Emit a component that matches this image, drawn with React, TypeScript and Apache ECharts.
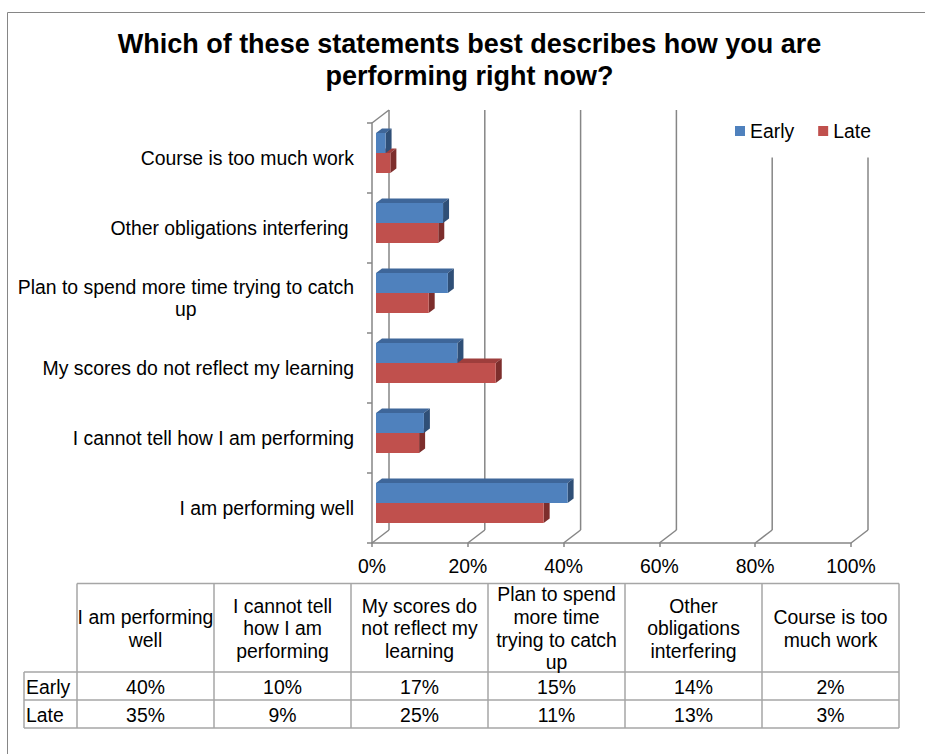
import React, { useEffect, useRef } from "react";
import * as echarts from "echarts";

// ---- data ----
const categories = [
  "I am performing well",
  "I cannot tell how I am performing",
  "My scores do not reflect my learning",
  "Plan to spend more time trying to catch up",
  "Other obligations interfering",
  "Course is too much work",
];
const axisLabels = [
  "I am performing well",
  "I cannot tell how I am performing",
  "My scores do not reflect my learning",
  "Plan to spend more time trying to catch\nup",
  "Other obligations interfering ",
  "Course is too much work",
];
const tableHeaders = [
  "I am performing\nwell",
  "I cannot tell\nhow I am\nperforming",
  "My scores do\nnot reflect my\nlearning",
  "Plan to spend\nmore time\ntrying to catch\nup",
  "Other\nobligations\ninterfering",
  "Course is too\nmuch work",
];
const seriesNames = ["Early", "Late"];
const early = [40, 10, 17, 15, 14, 2];
const late = [35, 9, 25, 11, 13, 3];
const xTicks = [0, 20, 40, 60, 80, 100];
const titleText = "Which of these statements best describes how you are\nperforming right now?";

// ---- styles ----
const FONT = '"Liberation Sans", Arial, sans-serif';
const FS = 19.4;
const GRID_COLOR = "#868686";
const TABLE_COLOR = "#a6a6a6";
const PALETTE = [
  { front: "#4F81BD", top: "#3E6699", side: "#2F4F77" },
  { front: "#C0504D", top: "#9E3E3C", side: "#7D2E2C" },
];
const DEPTH_X = 17;
const DEPTH_Y = -13;
const BAR_DX = 6;
const BAR_DY = -4.5;

function barRenderer(slot: number) {
  const col = PALETTE[slot];
  return (params: any, api: any) => {
    const v = api.value(0);
    const c = api.value(1);
    const p0 = api.coord([0, c]);
    const p1 = api.coord([v, c]);
    const band = api.size([0, 1])[1];
    const bandTop = p0[1] - band / 2;
    const y0 = bandTop + (band * (10 + slot * 20)) / 70;
    const y1 = y0 + (band * 20) / 70;
    const x0 = p0[0] + 4;
    const x1 = p1[0] + 4;
    return {
      type: "group",
      children: [
        {
          type: "polygon",
          shape: { points: [[x0, y0], [x1, y0], [x1 + BAR_DX, y0 + BAR_DY], [x0 + BAR_DX, y0 + BAR_DY]] },
          style: { fill: col.top },
        },
        {
          type: "polygon",
          shape: { points: [[x1, y0], [x1 + BAR_DX, y0 + BAR_DY], [x1 + BAR_DX, y1 + BAR_DY], [x1, y1]] },
          style: { fill: col.side },
        },
        {
          type: "rect",
          shape: { x: x0, y: y0, width: x1 - x0, height: y1 - y0 },
          style: { fill: col.front },
        },
      ],
    };
  };
}

function wallRenderer(params: any, api: any) {
  const v = api.value(0);
  const cs = params.coordSys;
  const top = cs.y;
  const bottom = cs.y + cs.height;
  const x = api.coord([v, 0])[0];
  const lineStyle = { stroke: GRID_COLOR, lineWidth: 1.5 };
  const children: any[] = [
    { type: "line", shape: { x1: x + DEPTH_X, y1: top + DEPTH_Y, x2: x + DEPTH_X, y2: bottom + DEPTH_Y }, style: lineStyle },
    { type: "line", shape: { x1: x, y1: bottom, x2: x + DEPTH_X, y2: bottom + DEPTH_Y }, style: lineStyle },
  ];
  if (v === xTicks[0]) {
    children.push({ type: "line", shape: { x1: x, y1: top, x2: x + DEPTH_X, y2: top + DEPTH_Y }, style: lineStyle });
  }
  return { type: "group", children };
}

function buildTable() {
  const els: any[] = [];
  const colLeft = 77;
  const colW = 137;
  const labelLeft = 24;
  const headTop = 583.5;
  const headBottom = 672;
  const rowH = 28;
  const n = categories.length;
  const right = colLeft + colW * n;
  const bottom = headBottom + rowH * 2;
  const ls = { stroke: TABLE_COLOR, lineWidth: 1.5 };
  const txt = (x: number, y: number, text: string, align: string, lh = 22.7) => ({
    type: "text",
    x,
    y,
    z: 10,
    style: {
      text,
      fontSize: FS,
      fontFamily: FONT,
      fill: "#000",
      align,
      textAlign: align,
      verticalAlign: "middle",
      textVerticalAlign: "middle",
      lineHeight: lh,
    },
  });
  // horizontal lines
  els.push({ type: "line", z: 10, shape: { x1: colLeft, y1: headTop, x2: right, y2: headTop }, style: ls });
  for (let r = 0; r <= 2; r++) {
    const y = headBottom + rowH * r;
    els.push({ type: "line", z: 10, shape: { x1: labelLeft, y1: y, x2: right, y2: y }, style: ls });
  }
  // vertical lines
  els.push({ type: "line", z: 10, shape: { x1: labelLeft, y1: headBottom, x2: labelLeft, y2: bottom }, style: ls });
  for (let c = 0; c <= n; c++) {
    const x = colLeft + colW * c;
    els.push({ type: "line", z: 10, shape: { x1: x, y1: headTop, x2: x, y2: bottom }, style: ls });
  }
  // headers
  tableHeaders.forEach((h, i) => {
    els.push(txt(colLeft + colW * (i + 0.5), (headTop + headBottom) / 2 + 0.5, h, "center"));
  });
  // rows
  [early, late].forEach((arr, r) => {
    const cy = headBottom + rowH * (r + 0.5) + 0.5;
    els.push(txt(labelLeft + 2, cy, seriesNames[r], "left"));
    arr.forEach((v, i) => {
      els.push(txt(colLeft + colW * (i + 0.5), cy, `${v}%`, "center"));
    });
  });
  return els;
}

export default function App() {
  const ref = useRef<HTMLDivElement>(null);
  useEffect(() => {
    if (!ref.current) return;
    const chart = echarts.init(ref.current, null, { renderer: "svg" });
    const option: any = {
      animation: false,
      backgroundColor: "#ffffff",
      title: {
        text: titleText,
        left: 469.5,
        top: 28,
        textAlign: "center",
        padding: 0,
        textStyle: { fontFamily: FONT, fontSize: 27, fontWeight: "bold", color: "#000", lineHeight: 32 },
      },
      legend: {
        data: seriesNames,
        left: 735,
        top: 121,
        padding: 0,
        itemWidth: 10,
        itemHeight: 10,
        itemGap: 24,
        icon: "rect",
        z: 10,
        textStyle: { fontFamily: FONT, fontSize: FS, color: "#000", lineHeight: 20 },
      },
      grid: { left: 372, top: 123, width: 479, height: 420, containLabel: false, outerBoundsMode: "none" },
      xAxis: {
        type: "value",
        min: 0,
        max: 100,
        interval: 20,
        axisLine: { show: true, lineStyle: { color: GRID_COLOR, width: 1.5 } },
        axisTick: { show: true, length: 4, lineStyle: { color: GRID_COLOR, width: 1.5 } },
        splitLine: { show: false },
        axisLabel: { formatter: "{value}%", fontFamily: FONT, fontSize: FS, color: "#000", margin: 13 },
      },
      yAxis: {
        type: "category",
        data: categories,
        axisLine: { show: true, lineStyle: { color: GRID_COLOR, width: 1.5 } },
        axisTick: { show: true, length: 5, lineStyle: { color: GRID_COLOR, width: 1.5 } },
        splitLine: { show: false },
        axisLabel: {
          margin: 18,
          formatter: (val: string, idx: number) =>
            axisLabels[idx].split("\n").map((l) => `{c|${l}}`).join("\n"),
          rich: { c: { align: "center", fontFamily: FONT, fontSize: FS, color: "#000", lineHeight: 22 } },
        },
      },
      graphic: {
        elements: [
          {
            type: "rect",
            z: 0,
            shape: { x: 7.5, y: 12.5, width: 1200, height: 1200 },
            style: { fill: "none", stroke: GRID_COLOR, lineWidth: 1 },
          },
          {
            type: "rect",
            z: 5,
            shape: { x: 722, y: 104, width: 175, height: 53.5 },
            style: { fill: "#ffffff" },
          },
          ...buildTable(),
        ],
      },
      series: [
        {
          name: "walls",
          type: "custom",
          z: 1,
          silent: true,
          renderItem: wallRenderer,
          encode: { x: 0, y: 1 },
          data: xTicks.map((v) => [v, 0]),
        },
        {
          name: seriesNames[1],
          type: "custom",
          z: 3,
          renderItem: barRenderer(1),
          itemStyle: { color: PALETTE[1].front },
          encode: { x: 0, y: 1 },
          data: late.map((v, i) => [v, i]),
        },
        {
          name: seriesNames[0],
          type: "custom",
          z: 4,
          renderItem: barRenderer(0),
          itemStyle: { color: PALETTE[0].front },
          encode: { x: 0, y: 1 },
          data: early.map((v, i) => [v, i]),
        },
      ],
    };
    chart.setOption(option);
    return () => chart.dispose();
  }, []);
  return (
    <div
      ref={ref}
      style={{ position: "absolute", left: 0, top: 0, width: 925, height: 754, background: "#fff" }}
    />
  );
}
